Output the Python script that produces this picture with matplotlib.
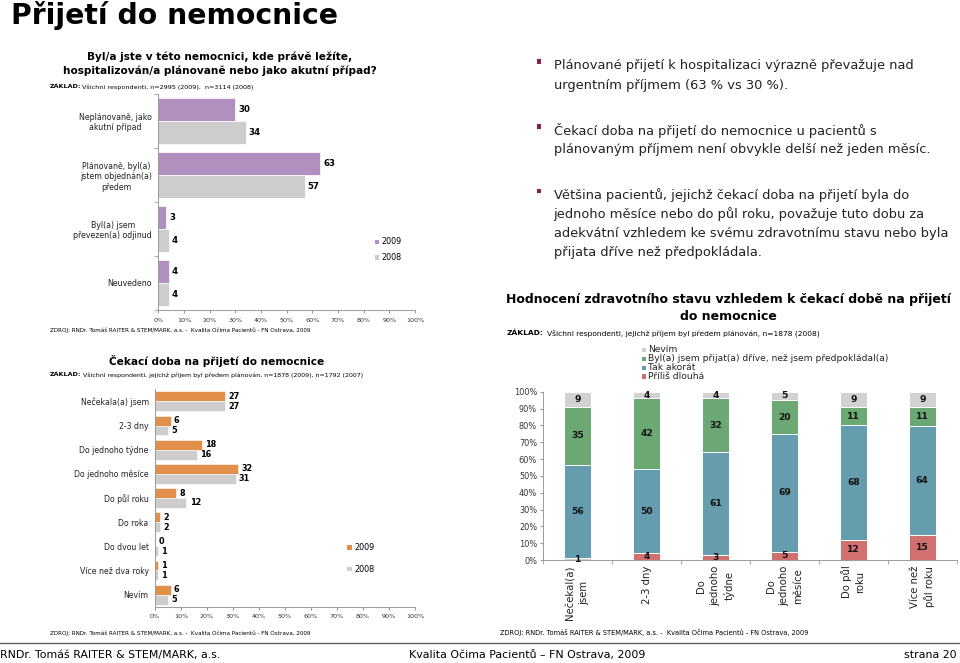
import matplotlib
matplotlib.use('Agg')
import matplotlib.pyplot as plt
from matplotlib.patches import Rectangle
import numpy as np

plt.rcParams['font.family'] = ['DejaVu Sans']

# --- data -------------------------------------------------------------
adm_cats = ['Neplánovaně, jako\nakutní případ', 'Plánovaně, byl(a)\njstem objednán(a)\npředem',
            'Byl(a) jsem\npřevezen(a) odjinud', 'Neuvedeno']
adm_2009 = [30, 63, 3, 4]
adm_2008 = [34, 57, 4, 4]

wait_cats = ['Nečekala(a) jsem', '2-3 dny', 'Do jednoho týdne', 'Do jednoho měsíce',
             'Do půl roku', 'Do roka', 'Do dvou let', 'Více než dva roky', 'Nevím']
wait_2009 = [27, 6, 18, 32, 8, 2, 0, 1, 6]
wait_2008 = [27, 5, 16, 31, 12, 2, 1, 1, 5]

eval_cats = ['Nečekal(a)\njsem', '2-3 dny', 'Do\njednoho\ntýdne', 'Do\njednoho\nměsíce',
             'Do půl\nroku', 'Více než\npůl roku']
eval_long = [1, 4, 3, 5, 12, 15]        # Příliš dlouhá
eval_ok = [56, 50, 61, 69, 68, 64]      # Tak akorát
eval_early = [35, 42, 32, 20, 11, 11]   # Byl(a) jsem přijat(a) dříve...
eval_dunno = [9, 4, 4, 5, 9, 9]         # Nevím
eval_series = ['Nevím', 'Byl(a) jsem přijat(a) dříve, než jsem předpokládal(a)',
               'Tak akorát', 'Příliš dlouhá']

pct_ticks = [f'{v}%' for v in range(0, 101, 10)]

bullets = [
    ['Plánované přijetí k hospitalizaci výrazně převažuje nad',
     'urgentním příjmem (63 % vs 30 %).'],
    ['Čekací doba na přijetí do nemocnice u pacientů s',
     'plánovaným příjmem není obvykle delší než jeden měsíc.'],
    ['Většina pacientů, jejichž čekací doba na přijetí byla do',
     'jednoho měsíce nebo do půl roku, považuje tuto dobu za',
     'adekvátní vzhledem ke svému zdravotnímu stavu nebo byla',
     'přijata dříve než předpokládala.'],
]

# --- colours ----------------------------------------------------------
PURPLE = '#B18FBE'
ORANGE = '#E0904A'
GREY = '#CDCDCD'
C_DUNNO = '#D2D2D2'
C_EARLY = '#6BA874'
C_OK = '#659DAF'
C_LONG = '#D0706F'
AXC = '#9A9A9A'

W, H = 960, 663
fig = plt.figure(figsize=(W / 100, H / 100), dpi=100)


def box(x0, y0, x1, y1):
    return [x0 / W, 1 - y1 / H, (x1 - x0) / W, (y1 - y0) / H]


def txt(x, y, s, **kw):
    kw.setdefault('va', 'center')
    fig.text(x / W, 1 - y / H, s, **kw)


def square(x, y, size, color):
    fig.add_artist(Rectangle((x / W, 1 - (y + size / 2) / H), size / W, size / H,
                             transform=fig.transFigure, facecolor=color, edgecolor='none'))


def style_hbar(ax, ncat):
    for s in ['top', 'right']:
        ax.spines[s].set_visible(False)
    for s in ['left', 'bottom']:
        ax.spines[s].set_color(AXC)
        ax.spines[s].set_linewidth(0.7)
    ax.set_xlim(0, 100)
    ax.set_ylim(ncat - 0.5, -0.5)
    ax.set_xticks(range(0, 101, 10))
    ax.set_xticklabels(pct_ticks, fontsize=4.6, color='#333333')
    ax.tick_params(axis='x', length=2.5, color=AXC, pad=3)
    ax.set_yticks(np.arange(ncat))
    ax.set_yticks(np.arange(ncat + 1) - 0.5, minor=True)
    ax.tick_params(axis='y', which='major', length=0, pad=4.5)
    ax.tick_params(axis='y', which='minor', length=3, color=AXC)


# --- main title & footer ---------------------------------------------
txt(11, 15, 'Přijetí do nemocnice', fontsize=20.3, fontweight='bold')
fig.add_artist(plt.Line2D([0, 1], [1 - 642.5 / H, 1 - 642.5 / H], color='#555555', lw=0.9,
                          transform=fig.transFigure))
txt(0, 655, 'RNDr. Tomáš RAITER & STEM/MARK, a.s.', fontsize=7.9)
txt(527, 655, 'Kvalita Očima Pacientů – FN Ostrava, 2009', fontsize=7.9, ha='center')
txt(957, 655, 'strana 20', fontsize=7.9, ha='right')

zdroj = 'ZDROJ: RNDr. Tomáš RAITER & STEM/MARK, a.s. -  Kvalita Očima Pacientů - FN Ostrava, 2009'

# --- chart 1: admission type -----------------------------------------
txt(220, 57, 'Byl/a jste v této nemocnici, kde právě ležíte,', fontsize=7.6,
    fontweight='bold', ha='center')
txt(220, 71, 'hospitalizován/a plánovaně nebo jako akutní případ?', fontsize=7.6,
    fontweight='bold', ha='center')
txt(50, 87, 'ZÁKLAD:', fontsize=4.6, fontweight='bold')
txt(82, 87, 'Všichni respondenti, n=2995 (2009),  n=3114 (2008)', fontsize=4.6)

ax1 = fig.add_axes(box(158.3, 94, 415, 310))
style_hbar(ax1, len(adm_cats))
y = np.arange(len(adm_cats))
bh = 0.42
ax1.barh(y - bh / 2, adm_2009, height=bh, color=PURPLE, edgecolor='white', linewidth=0.5)
ax1.barh(y + bh / 2, adm_2008, height=bh, color=GREY, edgecolor='white', linewidth=0.5)
for i in range(len(adm_cats)):
    ax1.text(adm_2009[i] + 1.2, i - bh / 2, str(adm_2009[i]), va='center', fontsize=6.2,
             fontweight='bold')
    ax1.text(adm_2008[i] + 1.2, i + bh / 2, str(adm_2008[i]), va='center', fontsize=6.2,
             fontweight='bold')
ax1.set_yticklabels(adm_cats, fontsize=5.7, multialignment='center', color='#222222')
square(374.5, 242, 4.5, PURPLE)
txt(381.5, 242, '2009', fontsize=5.8)
square(374.5, 257.5, 4.5, GREY)
txt(381.5, 257.5, '2008', fontsize=5.8)
txt(50, 330, zdroj, fontsize=4.1)

# --- chart 2: waiting time -------------------------------------------
txt(217, 361, 'Čekací doba na přijetí do nemocnice', fontsize=7.6, fontweight='bold',
    ha='center')
txt(50, 375, 'ZÁKLAD:', fontsize=4.6, fontweight='bold')
txt(83, 375, 'Všichni respondenti, jejichž příjem byl předem plánován, n=1878 (2009), '
    'n=1792 (2007)', fontsize=4.5)

ax2 = fig.add_axes(box(155, 389.3, 415, 606.7))
style_hbar(ax2, len(wait_cats))
ax2.tick_params(axis='y', which='minor', length=0)
y = np.arange(len(wait_cats))
bh = 0.41
ax2.barh(y - bh / 2, wait_2009, height=bh, color=ORANGE, edgecolor='white', linewidth=0.4)
ax2.barh(y + bh / 2, wait_2008, height=bh, color=GREY, edgecolor='white', linewidth=0.4)
for i in range(len(wait_cats)):
    ax2.text(wait_2009[i] + 1.3, i - bh / 2, str(wait_2009[i]), va='center', fontsize=5.9,
             fontweight='bold')
    ax2.text(wait_2008[i] + 1.3, i + bh / 2, str(wait_2008[i]), va='center', fontsize=5.9,
             fontweight='bold')
ax2.set_yticklabels(wait_cats, fontsize=5.6, color='#222222')
square(347, 547.5, 4.5, ORANGE)
txt(354, 547.5, '2009', fontsize=5.8)
square(347, 569, 4.5, GREY)
txt(354, 569, '2008', fontsize=5.8)
txt(50, 633, zdroj, fontsize=4.1)

# --- bullets -----------------------------------------------------------
line_y = [[66, 85], [131, 149.5], [195.5, 214.5, 233.5, 252.5]]
for para, ys in zip(bullets, line_y):
    square(536.5, ys[0] - 4.5, 4.2, '#8B1C4C')
    for line, yy in zip(para, ys):
        txt(553.5, yy, line, fontsize=9.4, color='#222222')

# --- chart 3: health evaluation ---------------------------------------
txt(728, 300, 'Hodnocení zdravotního stavu vzhledem k čekací době na přijetí',
    fontsize=9.0, fontweight='bold', ha='center')
txt(728, 316, 'do nemocnice', fontsize=9.0, fontweight='bold', ha='center')
txt(506.5, 333, 'ZÁKLAD:', fontsize=5.4, fontweight='bold')
txt(547, 333, 'Všichni respondenti, jejichž příjem byl předem plánován, n=1878 (2008)',
    fontsize=5.4)

leg_cols = [C_DUNNO, C_EARLY, C_OK, C_LONG]
for k, (name, col) in enumerate(zip(eval_series, leg_cols)):
    yy = 350 + k * 8.9
    square(641.5, yy, 4.5, col)
    txt(648.5, yy, name, fontsize=6.55, color='#222222')

ax3 = fig.add_axes(box(543.3, 391.7, 956.7, 560))
series = [eval_long, eval_ok, eval_early, eval_dunno]
cols = [C_LONG, C_OK, C_EARLY, C_DUNNO]
tot = np.sum(series, axis=0)
x = np.arange(len(eval_cats))
bottom = np.zeros(len(eval_cats))
for vals, col in zip(series, cols):
    h = np.array(vals) / tot * 100
    colors = [col] * len(vals)
    if col == C_LONG:
        colors[0] = C_DUNNO   # first bar's tiny segment is drawn grey in the source
    ax3.bar(x, h, bottom=bottom, width=0.39, color=colors, edgecolor='white', linewidth=0.7)
    for i in range(len(vals)):
        ax3.text(x[i], bottom[i] + h[i] / 2, str(vals[i]), ha='center', va='center',
                 fontsize=6.6, fontweight='bold', color='#111111')
    bottom += h
ax3.set_xlim(-0.5, len(eval_cats) - 0.5)
ax3.set_ylim(0, 100)
for s in ['top', 'right']:
    ax3.spines[s].set_visible(False)
for s in ['left', 'bottom']:
    ax3.spines[s].set_color(AXC)
    ax3.spines[s].set_linewidth(0.7)
ax3.set_yticks(range(0, 101, 10))
ax3.set_yticklabels(pct_ticks, fontsize=5.9, color='#333333')
ax3.tick_params(axis='y', length=2.5, color=AXC, pad=2)
ax3.set_xticks(x)
ax3.set_xticklabels(eval_cats, rotation=90, fontsize=7.3, va='top', ha='center',
                    multialignment='center', linespacing=1.45, color='#222222')
ax3.set_xticks(np.arange(len(eval_cats) + 1) - 0.5, minor=True)
ax3.tick_params(axis='x', which='major', length=0, pad=4)
ax3.tick_params(axis='x', which='minor', length=3, color=AXC)
txt(500, 632, zdroj, fontsize=4.8)

fig.savefig('out.png', dpi=100)
